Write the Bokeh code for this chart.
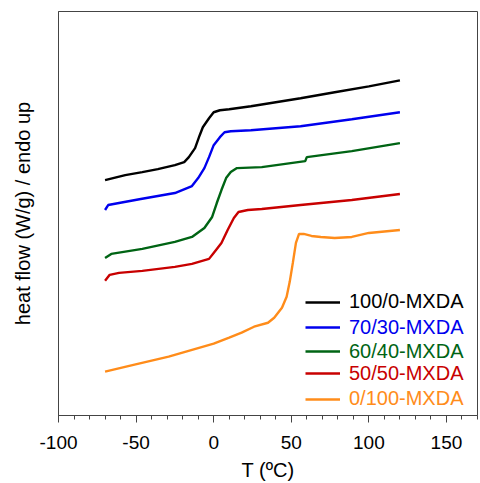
from bokeh.plotting import figure
from bokeh.models import Legend, LegendItem, SingleIntervalTicker, FixedTicker, Range1d
from bokeh.embed import file_html
from bokeh.resources import INLINE

# ---- data (T in °C, heat flow in arbitrary stacked units) ----
x_100_0 = [-70, -57, -46, -36, -25, -19, -16, -12, -9, -7, -3, 0, 4, 10, 24, 56, 78, 100, 120]
y_100_0 = [23.6, 24.1, 24.4, 24.7, 25.1, 25.4, 25.9, 26.8, 28.1, 28.9, 29.8, 30.4, 30.6, 30.7, 31.0, 31.8, 32.4, 33.0, 33.6]

x_70_30 = [-70, -68, -61, -47, -36, -25, -14, -10, -6, -3, 0, 4, 7, 11, 24, 56, 89, 120]
y_70_30 = [20.6, 21.1, 21.3, 21.7, 22.0, 22.3, 23.0, 23.8, 24.8, 25.9, 27.1, 27.9, 28.4, 28.5, 28.6, 29.0, 29.7, 30.4]

x_60_40 = [-70, -66, -46, -25, -14, -6, -1, 2, 5, 8, 11, 15, 31, 59, 60, 89, 120]
y_60_40 = [15.8, 16.2, 16.7, 17.4, 17.9, 18.8, 19.9, 21.3, 22.6, 23.8, 24.4, 24.8, 24.9, 25.5, 25.9, 26.5, 27.3]

x_50_50 = [-70, -67, -61, -46, -25, -14, -3, 0, 5, 9, 13, 16, 22, 31, 56, 89, 120]
y_50_50 = [13.5, 14.1, 14.3, 14.5, 14.9, 15.2, 15.7, 16.3, 17.3, 18.6, 19.8, 20.4, 20.6, 20.7, 21.1, 21.6, 22.2]

x_0_100 = [-70, -51, -29, 0, 10, 18, 26, 35, 39, 44, 47, 49, 51, 53, 55, 58, 63, 69, 78, 89, 100, 120]
y_0_100 = [4.4, 5.1, 5.9, 7.2, 7.8, 8.3, 8.9, 9.3, 9.8, 10.8, 11.9, 13.4, 15.3, 17.3, 18.2, 18.2, 18.0, 17.9, 17.8, 17.9, 18.3, 18.6]

series_names = ["100/0-MXDA", "70/30-MXDA", "60/40-MXDA", "50/50-MXDA", "0/100-MXDA"]
series_colors = ["#000000", "#0000ee", "#006414", "#c80000", "#ff8c1a"]
series_x = [x_100_0, x_70_30, x_60_40, x_50_50, x_0_100]
series_y = [y_100_0, y_70_30, y_60_40, y_50_50, y_0_100]

x_tick_values = [-100, -50, 0, 50, 100, 150]
x_tick_labels = ["-100", "-50", "0", "50", "100", "150"]

FONT = "Liberation Sans"
FRAME_COLOR = "#444444"

p = figure(
    width=480, height=483,
    min_border_left=58, min_border_right=3, min_border_top=11, min_border_bottom=67,
    x_range=Range1d(-100, 170), y_range=Range1d(0, 40.5),
    output_backend="svg", toolbar_location=None,
)
p.background_fill_color = "white"
p.border_fill_color = "white"
p.outline_line_color = FRAME_COLOR
p.outline_line_width = 1
p.xgrid.visible = False
p.ygrid.visible = False

# x axis
xa = p.xaxis[0]
xa.ticker = SingleIntervalTicker(interval=50, num_minor_ticks=5)
xa.major_label_overrides = {v: s for v, s in zip(x_tick_values, x_tick_labels)}
xa.axis_label = "T (ºC)"
xa.axis_label_text_font = FONT
xa.axis_label_text_font_size = "20px"
xa.axis_label_text_font_style = "normal"
xa.axis_label_text_color = "black"
xa.axis_label_standoff = 7
xa.major_label_text_font = FONT
xa.major_label_text_font_size = "19px"
xa.major_label_text_color = "black"
xa.major_label_standoff = 13
xa.major_tick_out = 7
xa.major_tick_in = 0
xa.minor_tick_out = 4
xa.minor_tick_in = 0
xa.axis_line_color = FRAME_COLOR
xa.major_tick_line_color = FRAME_COLOR
xa.minor_tick_line_color = FRAME_COLOR

# y axis (no ticks)
ya = p.yaxis[0]
ya.ticker = FixedTicker(ticks=[])
ya.axis_label = "heat flow (W/g) / endo up"
ya.axis_label_text_font = FONT
ya.axis_label_text_font_size = "20px"
ya.axis_label_text_font_style = "normal"
ya.axis_label_text_color = "black"
ya.axis_label_standoff = 25
ya.major_label_text_font_size = "0px"
ya.major_tick_out = 0
ya.major_tick_in = 0
ya.minor_tick_out = 0
ya.minor_tick_in = 0
ya.axis_line_color = FRAME_COLOR

renderers = []
for xs, ys, c in zip(series_x, series_y, series_colors):
    r = p.line(xs, ys, line_color=c, line_width=2.4)
    renderers.append(r)

# one legend per entry so each label can take its series colour
row_bottoms = [102, 76.5, 52.5, 30.5, 5]
for name, c, r, yb in zip(series_names, series_colors, renderers, row_bottoms):
    lg = Legend(
        items=[LegendItem(label=name, renderers=[r])],
        location=(247, yb),
        label_text_color=c,
        label_text_font=FONT,
        label_text_font_size="20px",
        glyph_width=35, glyph_height=20, label_height=20,
        label_standoff=9,
        padding=0, margin=0, spacing=0,
        border_line_color=None, background_fill_alpha=0,
    )
    p.add_layout(lg, "center")

open("out.html", "w").write(file_html(p, INLINE))
